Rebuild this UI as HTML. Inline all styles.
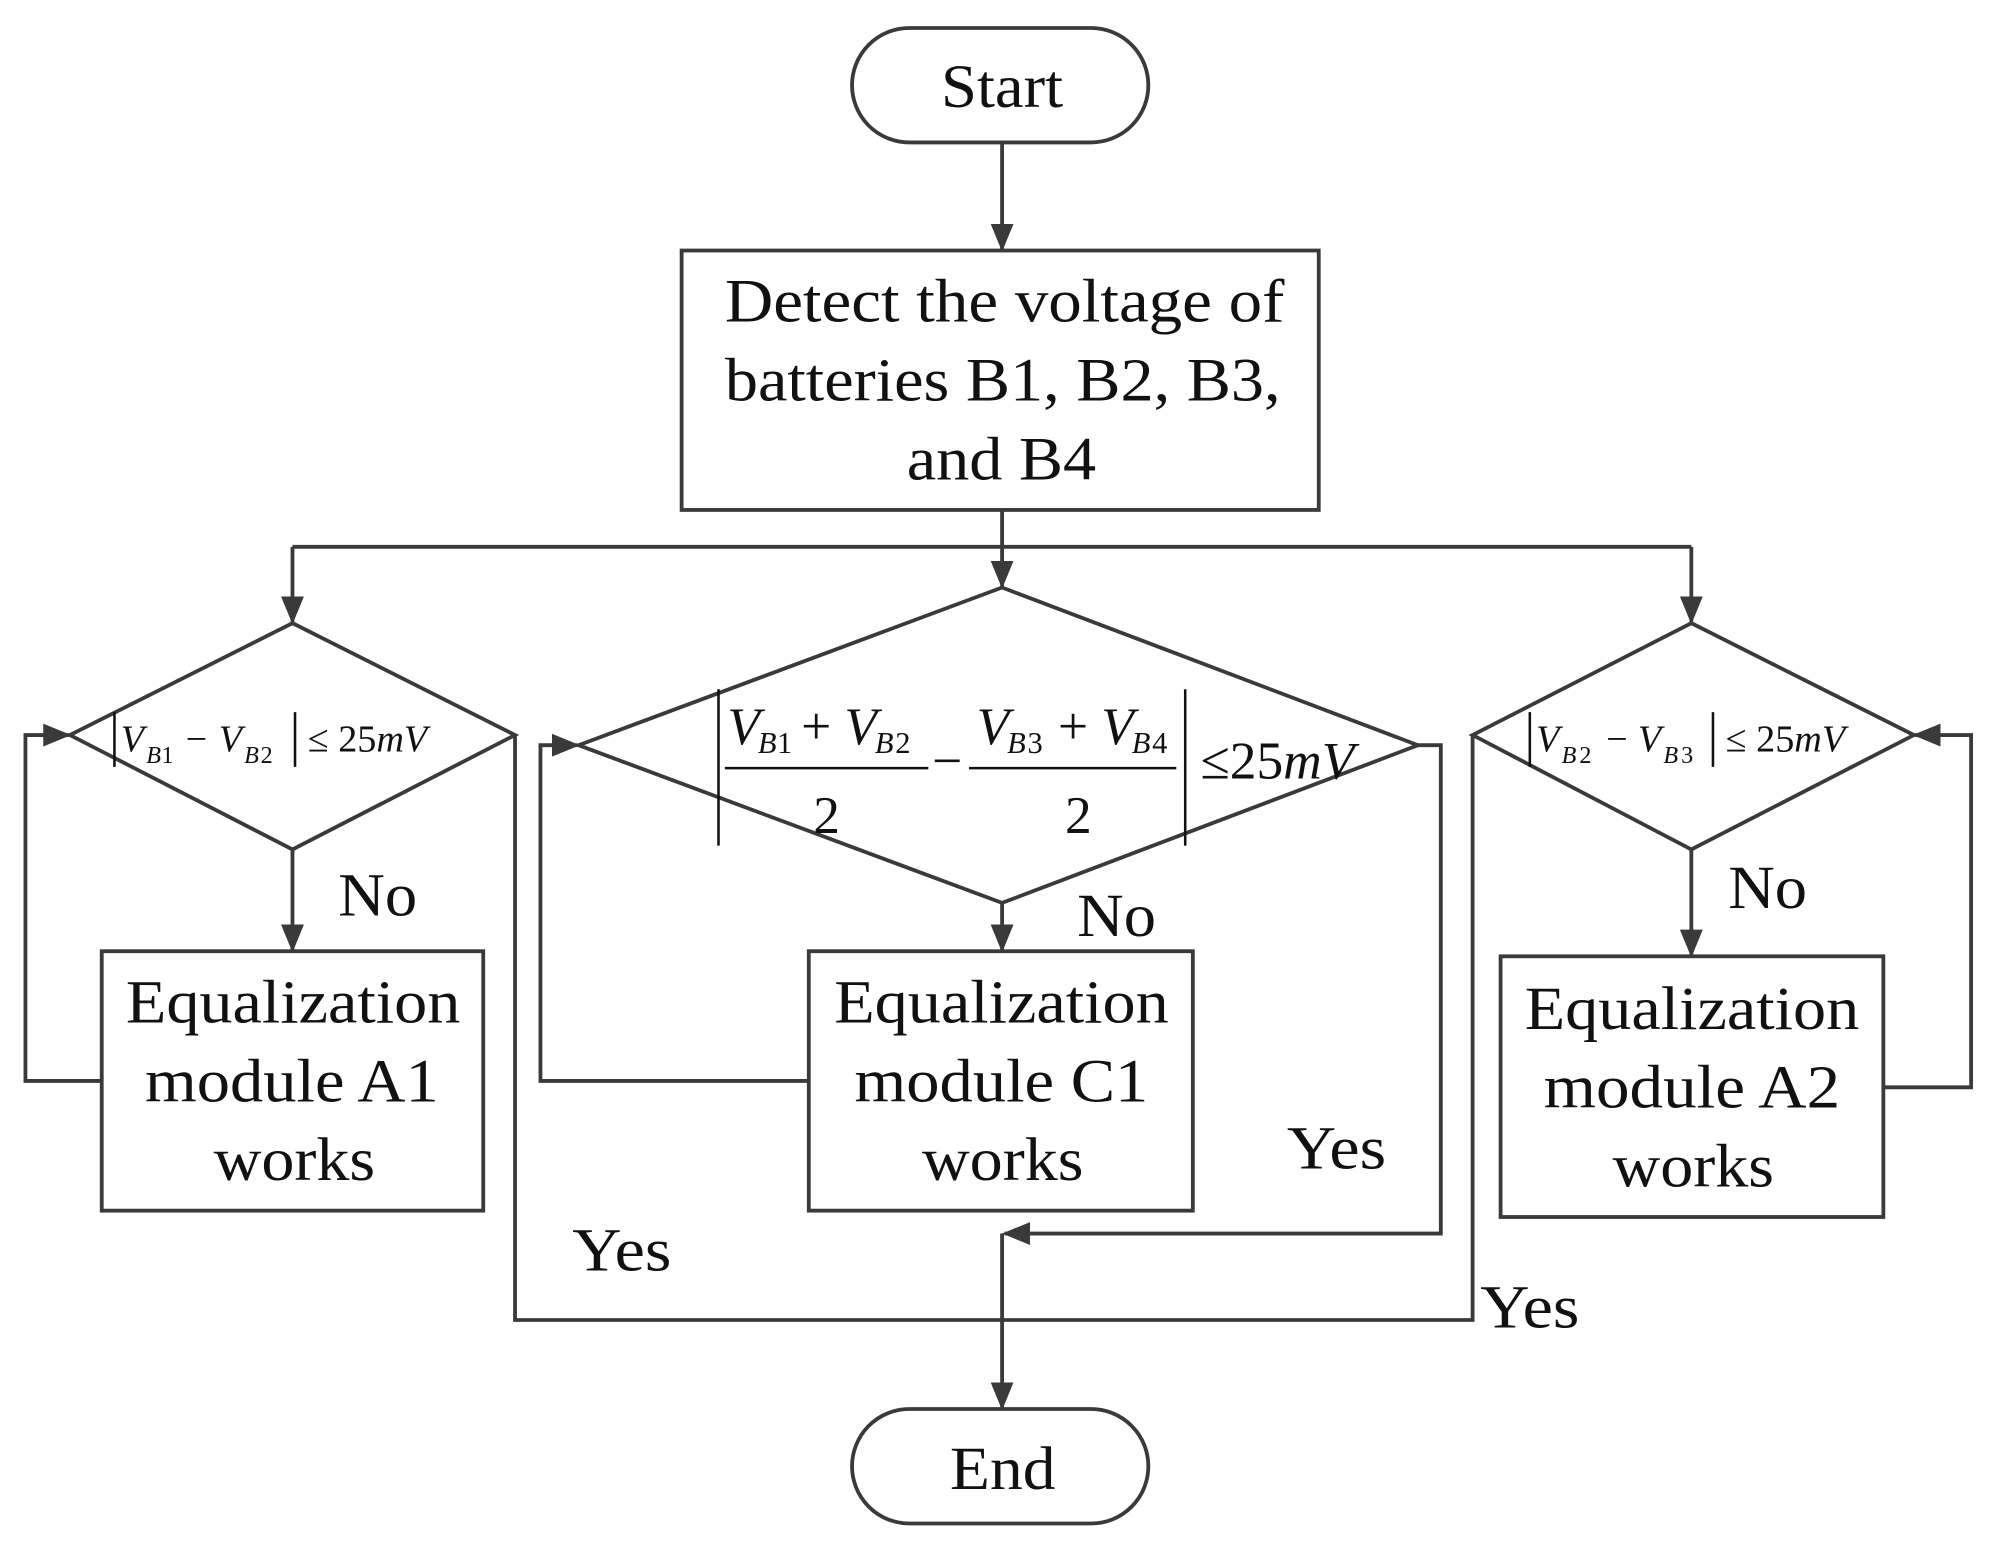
<!DOCTYPE html>
<html><head><meta charset="utf-8"><style>
html,body{margin:0;padding:0;background:#fff;}
svg{display:block;}
text{font-family:"Liberation Serif",serif;fill:#111;}
</style></head><body>
<svg width="1994" height="1554" viewBox="0 0 1568 1222" preserveAspectRatio="none">
<defs>
<marker id="b" markerWidth="22" markerHeight="22" refX="20" refY="11" orient="auto" markerUnits="userSpaceOnUse" viewBox="0 0 22 22"><path d="M0,2 L22,11 L0,20 z" fill="#3a3a3a"/></marker></defs>
<g stroke="#3a3a3a" stroke-width="3" fill="none">
<rect x="670" y="22" width="233" height="90" rx="45"/>
<rect x="536" y="197" width="501" height="204"/>
<rect x="670" y="1108" width="233" height="90" rx="45"/>
<polygon points="230,490 405,578 230,668 55,578"/>
<polygon points="788,462 1115,586 788,710 455,586"/>
<polygon points="1330,490 1505,578 1330,668 1158,578"/>
<rect x="80" y="748" width="300" height="204"/>
<rect x="636" y="748" width="302" height="204"/>
<rect x="1180" y="752" width="301" height="205"/>
<path d="M788,112 V196" marker-end="url(#b)"/>
<path d="M788,401 V461" marker-end="url(#b)"/>
<path d="M230,430 H1330"/>
<path d="M230,430 V489" marker-end="url(#b)"/>
<path d="M1330,430 V489" marker-end="url(#b)"/>
<path d="M230,668 V747" marker-end="url(#b)"/>
<path d="M788,710 V747" marker-end="url(#b)"/>
<path d="M1330,668 V751" marker-end="url(#b)"/>
<path d="M80,850 H20 V578 H54" marker-end="url(#b)"/>
<path d="M636,850 H425 V586 H454" marker-end="url(#b)"/>
<path d="M1481,855 H1550 V578 H1506" marker-end="url(#b)"/>
<path d="M405,578 V1038 H1158 V578"/>
<path d="M1115,586 H1133 V970 H790" marker-end="url(#b)"/>
<path d="M788,970 V1107" marker-end="url(#b)"/>
</g>
<g font-size="48" lengthAdjust="spacingAndGlyphs">
<text x="740" y="84" textLength="96" lengthAdjust="spacingAndGlyphs">Start</text>
<text x="747" y="1171" textLength="83" lengthAdjust="spacingAndGlyphs">End</text>
<text x="570" y="253" textLength="440" lengthAdjust="spacingAndGlyphs">Detect the voltage of</text>
<text x="570" y="315" textLength="437" lengthAdjust="spacingAndGlyphs">batteries B1, B2, B3,</text>
<text x="713" y="377" textLength="149" lengthAdjust="spacingAndGlyphs">and B4</text>
<text x="99" y="804" textLength="263" lengthAdjust="spacingAndGlyphs">Equalization</text>
<text x="114" y="866" textLength="231" lengthAdjust="spacingAndGlyphs">module A1</text>
<text x="168" y="928" textLength="127" lengthAdjust="spacingAndGlyphs">works</text>
<text x="656" y="804" textLength="263" lengthAdjust="spacingAndGlyphs">Equalization</text>
<text x="672" y="866" textLength="231" lengthAdjust="spacingAndGlyphs">module C1</text>
<text x="725" y="928" textLength="127" lengthAdjust="spacingAndGlyphs">works</text>
<text x="1199" y="809" textLength="263" lengthAdjust="spacingAndGlyphs">Equalization</text>
<text x="1214" y="871" textLength="233" lengthAdjust="spacingAndGlyphs">module A2</text>
<text x="1268" y="933" textLength="127" lengthAdjust="spacingAndGlyphs">works</text>
<text x="266" y="720" textLength="62" lengthAdjust="spacingAndGlyphs">No</text>
<text x="847" y="736" textLength="62" lengthAdjust="spacingAndGlyphs">No</text>
<text x="1359" y="714" textLength="62" lengthAdjust="spacingAndGlyphs">No</text>
<text x="450" y="999" textLength="78" lengthAdjust="spacingAndGlyphs">Yes</text>
<text x="1012" y="919" textLength="78" lengthAdjust="spacingAndGlyphs">Yes</text>
<text x="1164" y="1044" textLength="78" lengthAdjust="spacingAndGlyphs">Yes</text>
</g>
<g stroke="#111" stroke-width="2">
<path d="M90,560 V603 M232,560 V603"/>
<path d="M1203,560 V603 M1347,560 V603"/>
<path d="M565,542 V665 M932,542 V665"/>
<path d="M570,604 H730 M762,604 H925"/>
</g>
<g font-size="30">
<text x="95" y="591" font-style="italic">V</text><text x="115" y="600" font-size="19" font-style="italic">B</text><text x="127" y="600" font-size="19">1</text>
<text x="146" y="591">−</text>
<text x="172" y="591" font-style="italic">V</text><text x="192" y="600" font-size="19" font-style="italic">B</text><text x="205" y="600" font-size="19">2</text>
<text x="242" y="591">≤ 25<tspan font-style="italic">mV</tspan></text>
<text x="1208" y="591" font-style="italic">V</text><text x="1228" y="600" font-size="19" font-style="italic">B</text><text x="1242" y="600" font-size="19">2</text>
<text x="1263" y="591">−</text>
<text x="1288" y="591" font-style="italic">V</text><text x="1308" y="600" font-size="19" font-style="italic">B</text><text x="1322" y="600" font-size="19">3</text>
<text x="1357" y="591">≤ 25<tspan font-style="italic">mV</tspan></text>
</g>
<g font-size="42">
<text x="572" y="585" font-style="italic">V</text><text x="596" y="592" font-size="24" font-style="italic">B</text><text x="611" y="592" font-size="24">1</text>
<text x="630" y="585">+</text>
<text x="664" y="585" font-style="italic">V</text><text x="688" y="592" font-size="24" font-style="italic">B</text><text x="704" y="592" font-size="24">2</text>
<text x="650" y="655" text-anchor="middle">2</text>
<text x="733" y="612">−</text>
<text x="768" y="585" font-style="italic">V</text><text x="792" y="592" font-size="24" font-style="italic">B</text><text x="808" y="592" font-size="24">3</text>
<text x="832" y="585">+</text>
<text x="866" y="585" font-style="italic">V</text><text x="890" y="592" font-size="24" font-style="italic">B</text><text x="906" y="592" font-size="24">4</text>
<text x="848" y="655" text-anchor="middle">2</text>
<text x="944" y="612">≤25<tspan font-style="italic">mV</tspan></text>
</g>
</svg>
</body></html>
